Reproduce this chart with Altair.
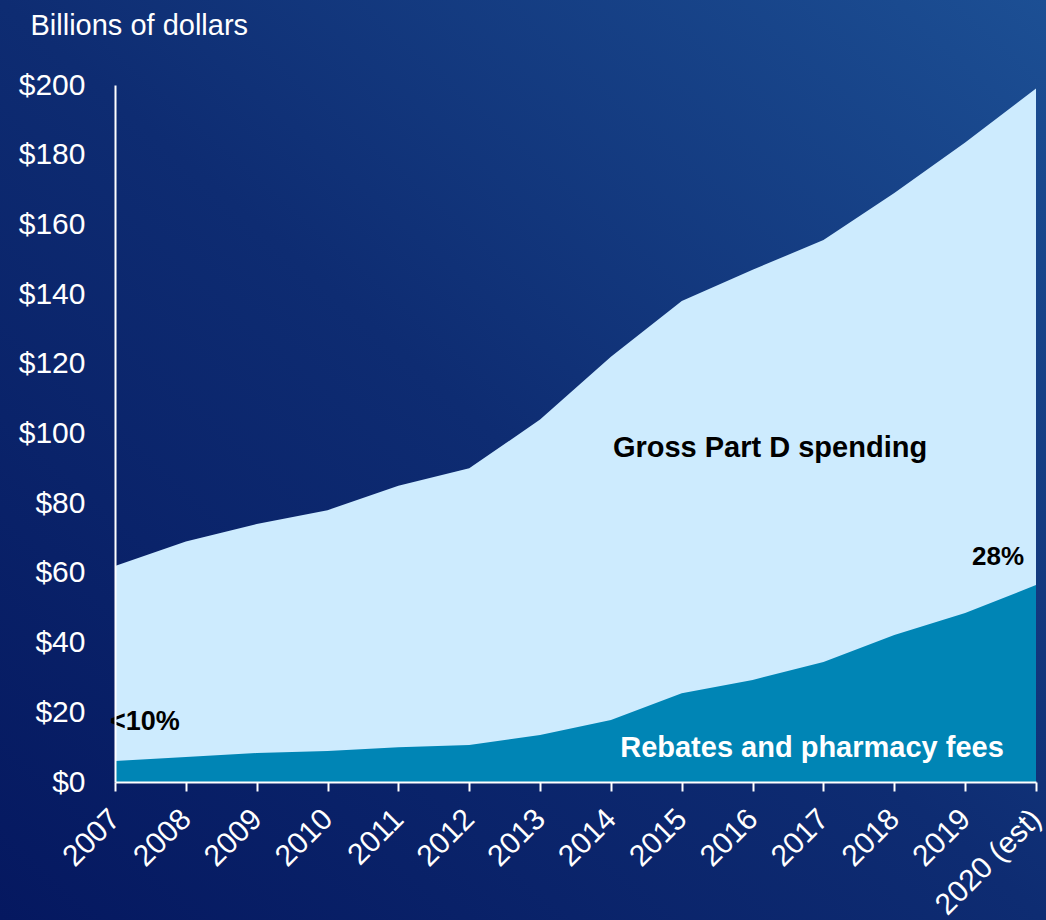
import altair as alt
import pandas as pd

years = ["2007", "2008", "2009", "2010", "2011", "2012", "2013",
         "2014", "2015", "2016", "2017", "2018", "2019", "2020 (est)"]
gross = [62, 69, 74, 78, 85, 90, 104, 122, 138, 147, 155.5, 169, 183.5, 199]
rebates = [6, 7.2, 8.3, 8.9, 10, 10.6, 13.5, 17.8, 25.5, 29.3, 34.4, 42.2, 48.5, 56.5]

df = pd.DataFrame({"year": years, "gross": gross, "rebates": rebates})

FONT = "Liberation Sans"
W, H = 921, 697

xenc = alt.X("year:O", sort=years, scale=alt.Scale(type="point", padding=0),
             axis=alt.Axis(title=None, labelAngle=-45, labelFontSize=30, labelColor="white",
                           labelFont=FONT, domainColor="white", domainWidth=2,
                           tickColor="white", tickWidth=2, tickSize=9, labelPadding=23,
                           labelAlign="right", labelBaseline="middle",
                           labelOverlap=False, zindex=2))
yscale = alt.Scale(domain=[0, 200], nice=False)
yaxis = alt.Axis(values=list(range(0, 201, 20)), format="$,d", labelFontSize=30,
                 labelColor="white", labelFont=FONT, ticks=False, labelPadding=30,
                 domainColor="white", domainWidth=2, grid=False,
                 title="Billions of dollars", titleAngle=0, titleAlign="left",
                 titleBaseline="middle", titleX=-85, titleY=-60, titleFontSize=29,
                 titleFontWeight="normal", titleColor="white", titleFont=FONT, zindex=2)

bg = alt.Chart(pd.DataFrame({"a": [0]})).mark_rect(
    color=alt.Gradient(gradient="linear",
                       stops=[alt.GradientStop(color="#051860", offset=0),
                              alt.GradientStop(color="#0e2c72", offset=0.5),
                              alt.GradientStop(color="#1c4f94", offset=1)],
                       x1=0, y1=1, x2=1, y2=0)
).encode(x=alt.value(-115), x2=alt.value(W + 10), y=alt.value(-85), y2=alt.value(H + 138))

gross_area = alt.Chart(df).mark_area(color="#cdebfe", opacity=1).encode(
    x=xenc,
    y=alt.Y("gross:Q", scale=yscale, axis=yaxis),
)
reb_area = alt.Chart(df).mark_area(color="#0085b5", opacity=1).encode(
    x=alt.X("year:O", sort=years),
    y=alt.Y("rebates:Q"),
)

def label(text, x, y, color, size, align="center"):
    return alt.Chart(pd.DataFrame({"t": [text]})).mark_text(
        font=FONT, fontSize=size, fontWeight="bold", color=color, align=align,
        baseline="middle"
    ).encode(text="t:N", x=alt.value(x), y=alt.value(y))

labels = (label("Gross Part D spending", 655, 363, "black", 29)
          + label("Rebates and pharmacy fees", 697, 663, "white", 29)
          + label("<10%", -5, 637, "black", 27, "left")
          + label("28%", 883, 472, "black", 26))

chart = alt.layer(bg, gross_area, reb_area, labels).properties(
    width=W, height=H,
    padding={"left": 115, "top": 85, "right": 10, "bottom": 138},
    autosize=alt.AutoSizeParams(type="none"),
    background="#0e2c72",
).configure_view(stroke=None)

chart.save("out.html", embed_options={"renderer": "svg", "actions": False})
